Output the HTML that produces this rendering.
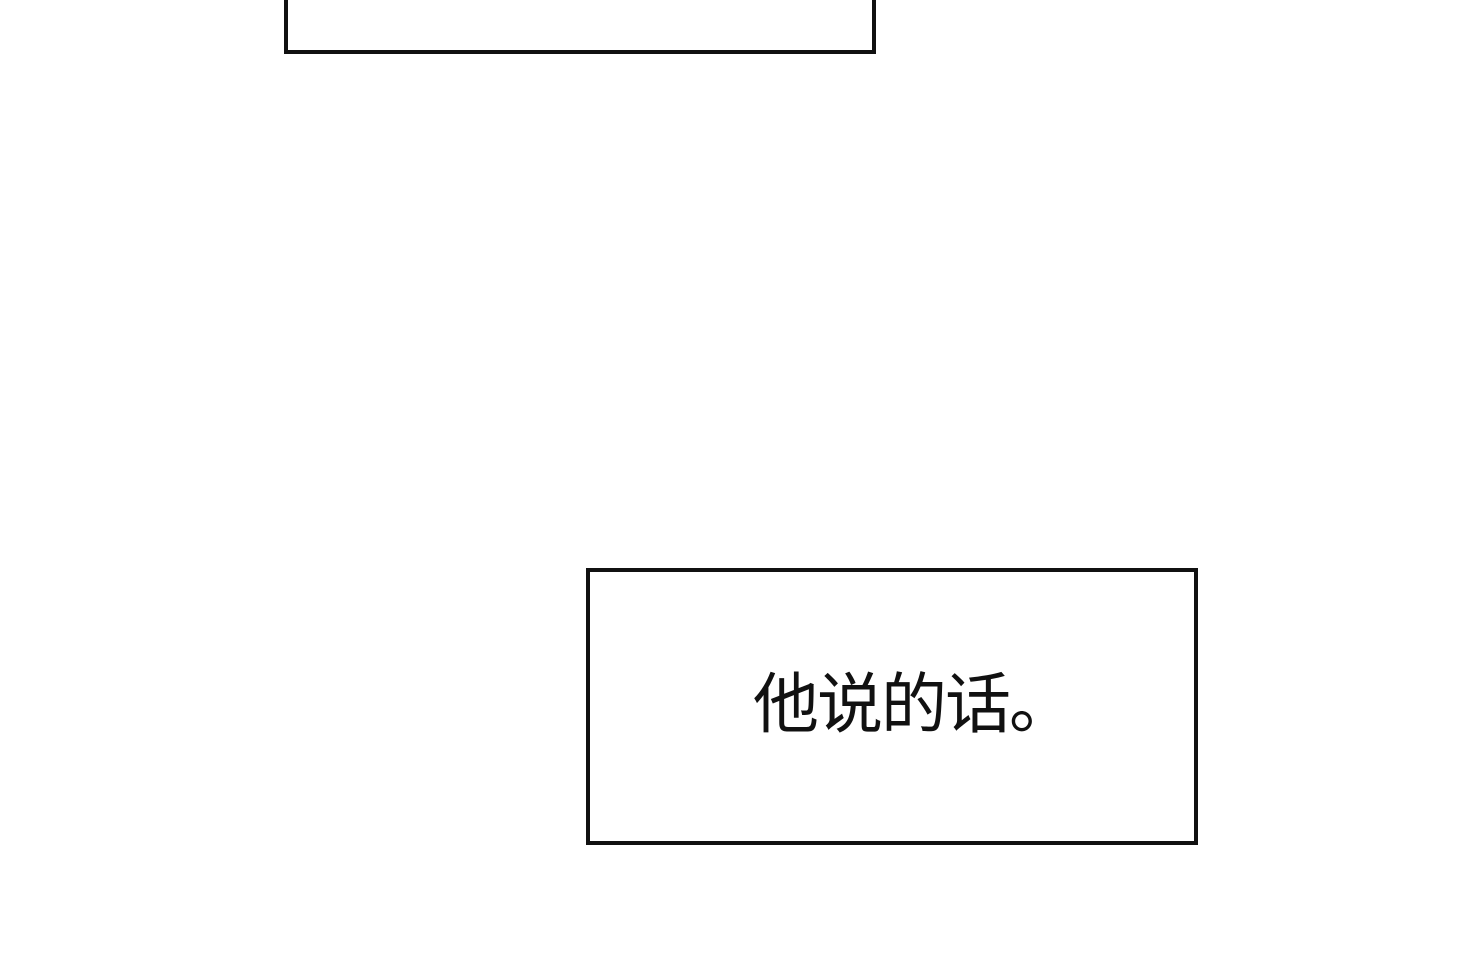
<!DOCTYPE html>
<html><head><meta charset="utf-8"><style>
html,body{margin:0;padding:0;background:#fff;width:1460px;height:958px;overflow:hidden;position:relative}
.b{position:absolute;border:4px solid #111;box-sizing:border-box;background:#fff}
.t{position:absolute;left:753px;top:668px;font-family:"Liberation Sans","Noto Sans CJK SC",sans-serif;font-size:66px;line-height:72px;color:#111;white-space:nowrap;letter-spacing:-2px}
</style></head><body>
<div class="b" style="left:284px;top:-10px;width:592px;height:64px"></div>
<div class="b" style="left:586px;top:568px;width:612px;height:277px"></div>
<div class="t">他说的话。</div>
</body></html>
